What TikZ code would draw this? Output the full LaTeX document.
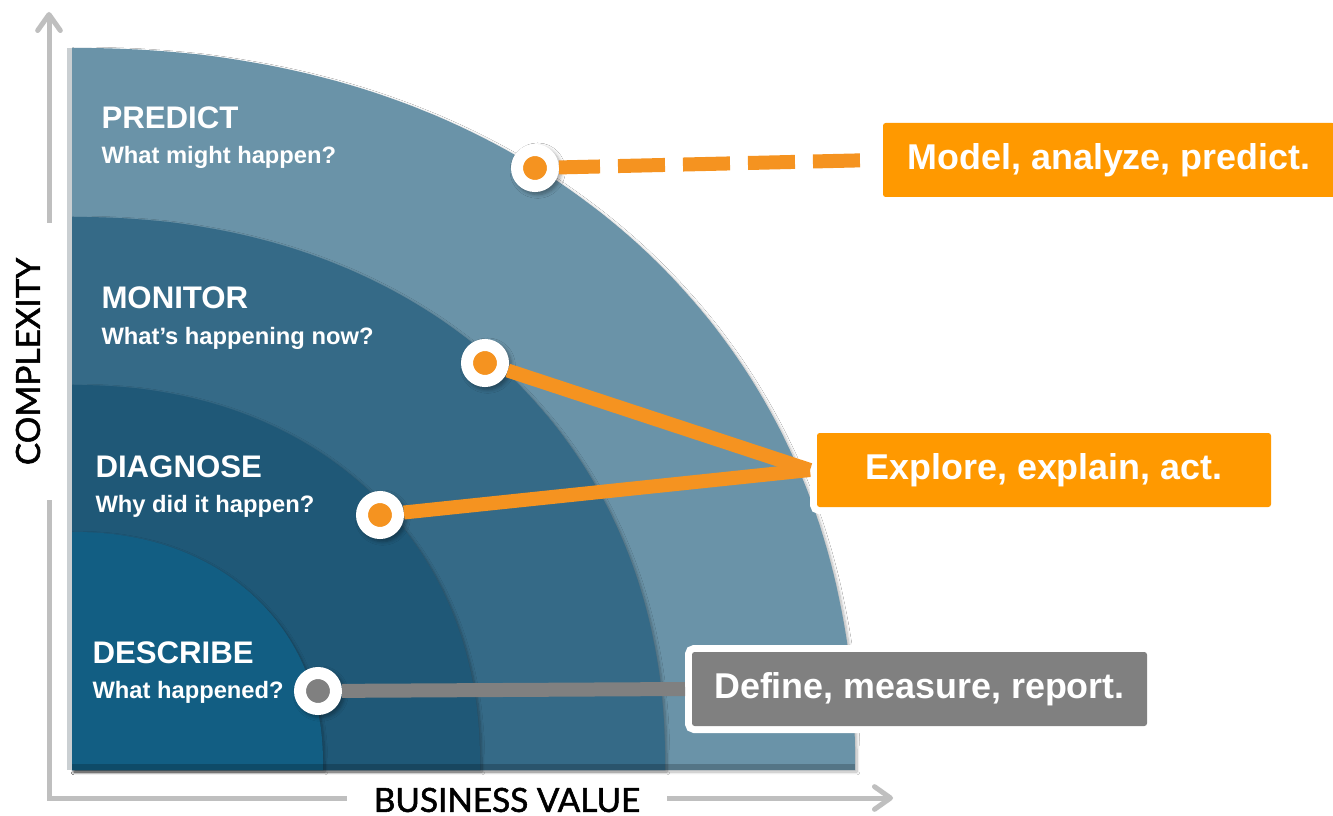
\documentclass[tikz,border=0pt]{standalone}
\usepackage{fontspec}
\setmainfont{Liberation Sans}
\newfontfamily\axisfont{Lato}[FakeBold=1.6]
\usetikzlibrary{arrows.meta,shadows.blur}

\definecolor{predictblue}{RGB}{106,147,168}
\definecolor{monitorblue}{RGB}{53,106,135}
\definecolor{diagnoseblue}{RGB}{31,88,119}
\definecolor{describeblue}{RGB}{18,94,131}
\definecolor{lineorange}{RGB}{245,147,32}
\definecolor{boxorange}{RGB}{255,153,0}
\definecolor{markgray}{RGB}{128,128,128}
\definecolor{axisgray}{RGB}{191,191,191}
\definecolor{edgegray}{RGB}{202,207,210}

\tikzset{every picture/.style={line width=0.75pt}}
\tikzset{
  ring/.style={blur shadow={shadow xshift=1.5pt,shadow yshift=-1.5pt,shadow blur steps=8,shadow opacity=30}},
  stage/.style={anchor=base west,inner sep=0,text=white,font=\bfseries\fontsize{23.4}{28}\selectfont},
  question/.style={anchor=base west,inner sep=0,text=white,font=\bfseries\fontsize{17.8}{21}\selectfont},
  marker/.style={circle,fill=lineorange,draw=white,line width=9pt,minimum size=27pt,inner sep=0,
    blur shadow={shadow xshift=1.5pt,shadow yshift=-1.5pt,shadow scale=1.33,shadow blur steps=5,shadow opacity=35}},
  msgbox/.style={fill=boxorange,text=white,font=\bfseries\fontsize{26.9}{32}\selectfont,
    minimum height=55.5pt,inner sep=0,outer sep=5.25pt,rounded corners=2pt,
    preaction={draw=white,line width=10.5pt}},
  link/.style={draw=lineorange,line width=10.5pt},
  axis/.style={draw=axisgray,line width=3.75pt},
  axislabel/.style={fill=white,inner sep=0,font=\axisfont\fontsize{25}{30}\selectfont}
}

\begin{document}
\begin{tikzpicture}[x=0.75pt,y=0.75pt,yscale=-1,
  declare function={sx(\t)=max(cos(\t),0.0001)^0.93; sy(\t)=max(sin(\t),0.0001)^0.93;}]
\fill[white] (0,0) rectangle (1333,816);
\useasboundingbox (0,0) rectangle (1333,816);

%Axes
\coordinate (top) at (49,12);
\coordinate (origin) at (49,798);
\coordinate (right) at (893,798);
\draw[axis,{Straight Barb[length=12pt,width=17pt,round]}-{Straight Barb[length=12pt,width=17pt,round]}] (top) -- (origin) -- (right);

%Shape: predict
\fill[predictblue,ring] (72,770) -- (855,770) -- plot[domain=0:90,samples=91] ({72+783*sx(\x)},{765-717*sy(\x)}) -- cycle;
%Shape: monitor
\fill[monitorblue,ring] (72,770) -- (665,770) -- plot[domain=0:90,samples=91] ({72+593*sx(\x)},{765-548*sy(\x)}) -- cycle;
%Shape: diagnose
\fill[diagnoseblue,ring] (72,770) -- (480,770) -- plot[domain=0:90,samples=91] ({72+408*sx(\x)},{765-380*sy(\x)}) -- cycle;
%Shape: describe
\fill[describeblue,ring] (72,770) -- (323,770) -- plot[domain=0:90,samples=91] ({72+251*sx(\x)},{765-233*sy(\x)}) -- cycle;
%Base and left edge
\fill[black,opacity=0.2] (72,764) rectangle (855,770);
\fill[edgegray] (67,48) rectangle (72,770);

% Text Node
\node[axislabel,rotate=90,minimum width=208pt,minimum height=54pt] (complexity) at (28,361.5) {COMPLEXITY};
% Text Node
\node[axislabel,minimum width=240pt,minimum height=22pt] (bizvalue) at (507,800) {BUSINESS VALUE};

% Text Node
\node[stage] (predict) at (101,129) {PREDICT};
\node[question] (predictq) at (101,164) {What might happen?};
% Text Node
\node[stage] (monitor) at (101,309) {MONITOR};
\node[question] (monitorq) at (101,344) {What’s happening now?};
% Text Node
\node[stage] (diagnose) at (95,477) {DIAGNOSE};
\node[question] (diagnoseq) at (95,512) {Why did it happen?};
% Text Node
\node[stage] (describe) at (92,663) {DESCRIBE};
\node[question] (describeq) at (92,698) {What happened?};

%Markers
\node[marker] (predictdot) at (535,168) {};
\node[marker] (monitordot) at (485,363) {};
\node[marker] (diagnosedot) at (380,515) {};
\node[marker,fill=markgray] (describedot) at (318,691) {};

%Boxes
\node[msgbox,minimum width=339pt] (modelbox) at (1109,160) {Model, analyze, predict.};
\node[msgbox,minimum width=340.5pt] (explorebox) at (1044,470) {Explore, explain, act.};
\node[msgbox,fill=markgray,minimum width=341.25pt] (definebox) at (919.5,689) {Define, measure, report.};

%Links
\draw[link,dash pattern=on 35.25pt off 13.5pt,dash phase=4.5pt] (predictdot) -- (modelbox.west);
\draw[link] (monitordot) -- (explorebox.west);
\draw[link] (diagnosedot) -- (explorebox.west);
\draw[link,draw=markgray] (describedot) -- (definebox.west);

\end{tikzpicture}
\end{document}
